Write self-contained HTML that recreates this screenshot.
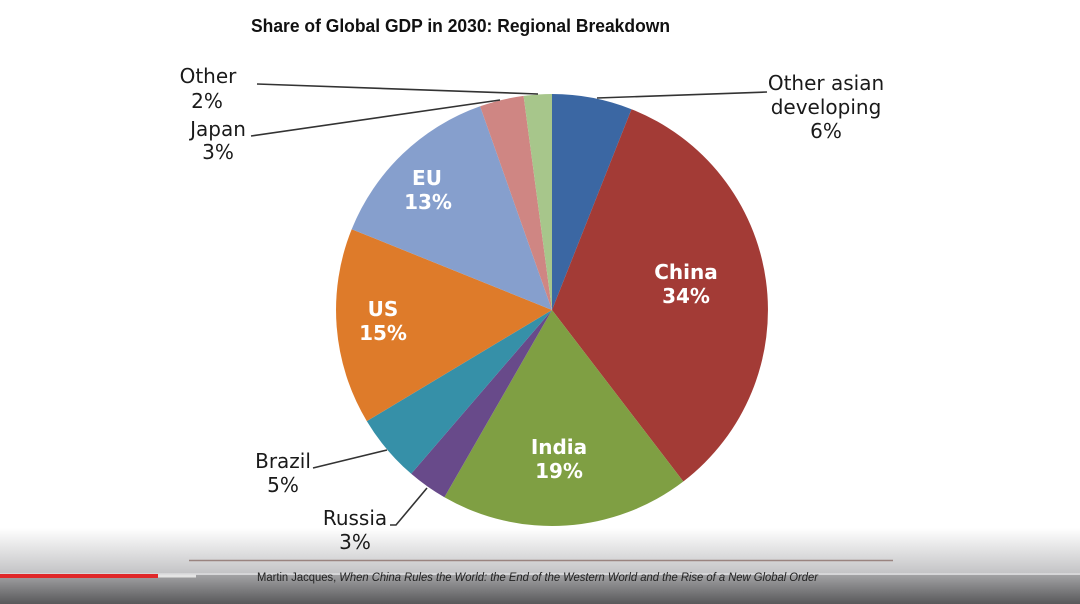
<!DOCTYPE html>
<html>
<head>
<meta charset="utf-8">
<style>
html,body{margin:0;padding:0;background:#fff;}
svg{display:block;}
</style>
</head>
<body>
<svg width="1080" height="604" viewBox="0 0 1080 604" xmlns="http://www.w3.org/2000/svg">
  <defs>
    <linearGradient id="bgTop" x1="0" y1="0" x2="0" y2="1">
      <stop offset="0" stop-color="#ffffff"/>
      <stop offset="1" stop-color="#c4c4c6"/>
    </linearGradient>
    <linearGradient id="bgBot" x1="0" y1="0" x2="0" y2="1">
      <stop offset="0" stop-color="#a2a2a4"/>
      <stop offset="1" stop-color="#58585a"/>
    </linearGradient>
  </defs>
  <rect x="0" y="0" width="1080" height="604" fill="#ffffff"/>
  <rect x="0" y="528" width="1080" height="45" fill="url(#bgTop)"/>
  <rect x="0" y="573" width="1080" height="2" fill="#d6d6d8"/>
  <rect x="0" y="575" width="1080" height="29" fill="url(#bgBot)"/>

  <!-- Title -->
  <text x="251" y="32" font-family="Liberation Sans, sans-serif" font-weight="bold" font-size="18" fill="#111" textLength="419" lengthAdjust="spacingAndGlyphs">Share of Global GDP in 2030: Regional Breakdown</text>

  <!-- Pie -->
  <g stroke="none">
    <path d="M552,310 L552,94 A216,216 0 0,1 631.5,109.2 Z" fill="#3b67a3"/>
    <path d="M552,310 L631.5,109.2 A216,216 0 0,1 683.3,481.5 Z" fill="#a33b36"/>
    <path d="M552,310 L683.3,481.5 A216,216 0 0,1 444.4,497.3 Z" fill="#7f9f43"/>
    <path d="M552,310 L444.4,497.3 A216,216 0 0,1 411.2,473.8 Z" fill="#684a8a"/>
    <path d="M552,310 L411.2,473.8 A216,216 0 0,1 366.8,421.1 Z" fill="#3690a8"/>
    <path d="M552,310 L366.8,421.1 A216,216 0 0,1 351.7,229.2 Z" fill="#de7b2a"/>
    <path d="M552,310 L351.7,229.2 A216,216 0 0,1 480.1,106.3 Z" fill="#869fcd"/>
    <path d="M552,310 L480.1,106.3 A216,216 0 0,1 523.6,95.9 Z" fill="#cf8683"/>
    <path d="M552,310 L523.6,95.9 A216,216 0 0,1 552,94 Z" fill="#a7c68b"/>
  </g>

  <!-- Leader lines -->
  <g stroke="#333" stroke-width="1.6" fill="none">
    <polyline points="257,84 538,94"/>
    <polyline points="251,136 500,100"/>
    <polyline points="597,98 767,92"/>
    <polyline points="313,468 387,450"/>
    <polyline points="390,525 396,525 427,488"/>
  </g>

  <!-- Outer labels -->
  <g font-family="DejaVu Sans, Liberation Sans, sans-serif" font-size="20" fill="#1a1a1a" text-anchor="middle">
    <text x="208" y="83">Other</text>
    <text x="207" y="108">2%</text>
    <text x="218" y="136">Japan</text>
    <text x="218" y="159">3%</text>
    <text x="826" y="90">Other asian</text>
    <text x="826" y="114">developing</text>
    <text x="826" y="138">6%</text>
    <text x="283" y="468">Brazil</text>
    <text x="283" y="492">5%</text>
    <text x="355" y="525">Russia</text>
    <text x="355" y="549">3%</text>
  </g>

  <!-- Inner labels -->
  <g font-family="DejaVu Sans, Liberation Sans, sans-serif" font-size="20" font-weight="bold" fill="#ffffff" text-anchor="middle">
    <text x="427" y="185">EU</text>
    <text x="428" y="209">13%</text>
    <text x="686" y="279">China</text>
    <text x="686" y="303">34%</text>
    <text x="383" y="316">US</text>
    <text x="383" y="340">15%</text>
    <text x="559" y="454">India</text>
    <text x="559" y="478">19%</text>
  </g>

  <!-- Footer rule -->
  <line x1="189" y1="560.5" x2="893" y2="560.5" stroke="#9a8480" stroke-width="1.5"/>

  <!-- Progress bar -->
  <rect x="0" y="574" width="158" height="4" fill="#e0282a"/>
  <rect x="158" y="574.5" width="38" height="3" fill="#e4e4e4"/>

  <!-- Footer citation -->
  <text x="257" y="581" font-family="Liberation Sans, sans-serif" font-size="11.5" fill="#222" textLength="561" lengthAdjust="spacingAndGlyphs">Martin Jacques, <tspan font-style="italic">When China Rules the World: the End of the Western World and the Rise of a New Global Order</tspan></text>
</svg>
</body>
</html>
